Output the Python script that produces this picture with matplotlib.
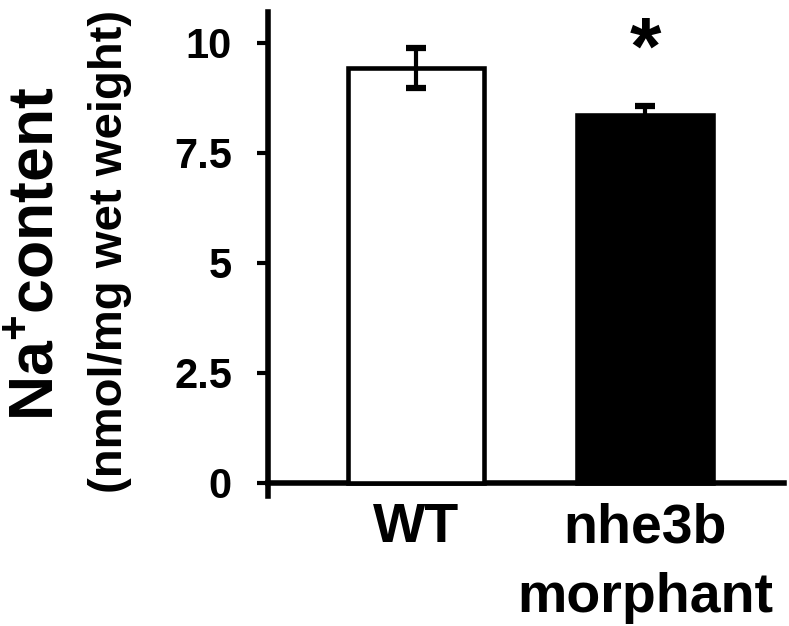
import numpy as np
import matplotlib
matplotlib.use('Agg')
import matplotlib.pyplot as plt

plt.rcParams['font.family'] = ['Liberation Sans', 'DejaVu Sans']
plt.rcParams['font.weight'] = 'bold'
plt.rcParams['mathtext.fontset'] = 'custom'
plt.rcParams['mathtext.bf'] = 'Liberation Sans:bold'
plt.rcParams['mathtext.rm'] = 'Liberation Sans:bold'

# data
groups = ['WT', 'nhe3b\nmorphant']
na_content = [9.43, 8.36]   # nmol/mg wet weight
na_err = [0.46, 0.21]
signif = ['', '*']
yticks = [0, 2.5, 5, 7.5, 10]
ytick_labels = ['0', '2.5', '5', '7.5', '10']

fig = plt.figure(figsize=(7.89, 6.26), dpi=100)
ax = fig.add_axes([0.3397, 0.2077, 0.654, 0.7731])

x = np.arange(len(groups))
width = 0.59
ax.bar(x, na_content, width, color=['white', 'black'], edgecolor='black',
       linewidth=3.3, zorder=3)
ax.errorbar(x, na_content, yerr=na_err, fmt='none', ecolor='black',
            elinewidth=3, capsize=7, capthick=4.5, zorder=4)

for xi, h, s in zip(x, na_content, signif):
    if s:
        ax.text(xi, 9.3, s, ha='center', va='baseline', fontsize=58,
                fontweight='bold')

ax.set_xlim(-0.646, 1.607)
ax.set_ylim(-0.3, 10.7)
ax.spines['top'].set_visible(False)
ax.spines['right'].set_visible(False)
ax.spines['bottom'].set_position(('data', 0))
ax.spines['left'].set_linewidth(4)
ax.spines['bottom'].set_linewidth(4)

ax.set_yticks(yticks)
ax.set_yticklabels(ytick_labels)
ax.tick_params(axis='y', direction='out', length=8, width=3, pad=18,
               labelsize=30)
ax.set_xticks(x)
ax.set_xticklabels(groups, linespacing=1.45)
ax.tick_params(axis='x', length=0, pad=14, labelsize=40)
for lab in ax.get_xticklabels() + ax.get_yticklabels():
    lab.set_fontweight('bold')

fig.text(0.0837, 0.594, r'Na$^{\mathbf{+}}$content', rotation=90,
         ha='right', va='center', fontsize=45, fontweight='bold')
fig.text(0.1394, 0.599, '(nmol/mg wet weight)', rotation=90,
         ha='center', va='center', fontsize=34, fontweight='bold')

fig.savefig('out.png', dpi=100)
